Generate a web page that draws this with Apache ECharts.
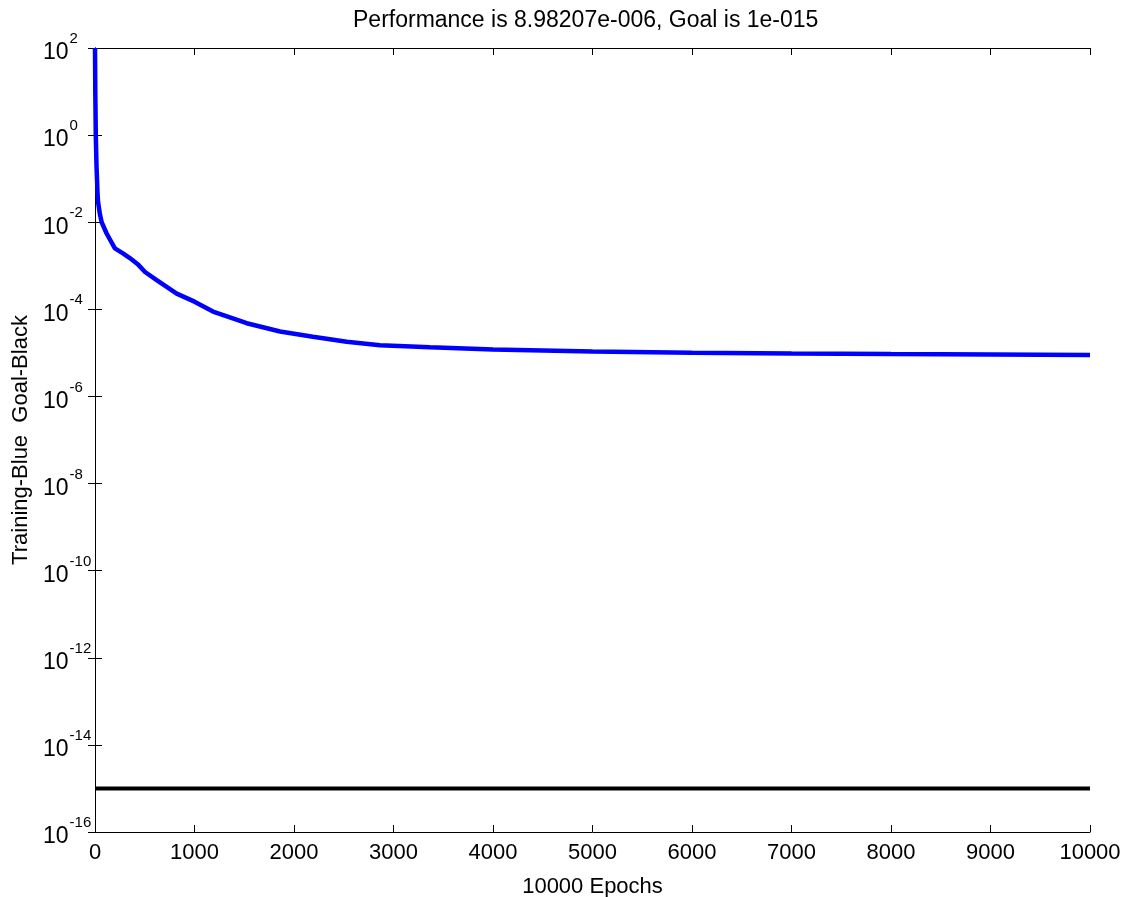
<!DOCTYPE html>
<html>
<head>
<meta charset="utf-8">
<script src="https://cdn.jsdelivr.net/npm/echarts@6/dist/echarts.min.js"></script>
<style>
html,body{margin:0;padding:0;background:#fff;}
#chart{width:1131px;height:897px;}
</style>
</head>
<body>
<div id="chart"></div>
<script>
// Data
const epochs = [0, 1, 3, 8, 15, 25, 30, 50, 67, 117, 200, 285, 350, 436, 503, 620, 821, 1000, 1186, 1525, 1860, 2190, 2530, 2864, 3367, 4000, 5000, 6000, 7000, 8000, 9000, 10000];
const training = [100, 50, 10, 1, 0.2, 0.05, 0.03, 0.015, 0.01, 0.0055, 0.0025, 0.0019, 0.0015, 0.00105, 7.2e-4, 4.7e-4, 2.3e-4, 1.5e-4, 8.9e-5, 4.8e-5, 3.1e-5, 2.35e-5, 1.8e-5, 1.5e-5, 1.35e-5, 1.2e-5, 1.08e-5, 1.01e-5, 9.7e-6, 9.4e-6, 9.15e-6, 8.98e-6];
const goalEpochs = [0, 10000];
const goalValue = 1e-15;
const xTicks = [0, 1000, 2000, 3000, 4000, 5000, 6000, 7000, 8000, 9000, 10000];
const yExponents = [-16, -14, -12, -10, -8, -6, -4, -2, 0, 2];
const titleText = 'Performance is 8.98207e-006, Goal is 1e-015';
const xName = '10000 Epochs';
const yName = 'Training-Blue  Goal-Black';

const font = 'Liberation Sans, Arial, sans-serif';
const chart = echarts.init(document.getElementById('chart'), null, {renderer: 'canvas'});

const axisLine = {show: true, lineStyle: {color: '#000', width: 1}};
const axisTick = {show: true, inside: true, length: 7, lineStyle: {color: '#000', width: 1}};
const yMin = Math.pow(10, yExponents[0]);
const yMax = Math.pow(10, yExponents[yExponents.length - 1]);

chart.setOption({
  backgroundColor: '#fff',
  animation: false,
  title: {
    text: titleText,
    left: 348,
    top: 4,
    textStyle: {fontFamily: font, fontSize: 23, fontWeight: 'normal', color: '#000'}
  },
  grid: {left: 95, right: 41, top: 48, bottom: 65, containLabel: false, outerBoundsMode: 'none', show: false},
  xAxis: [{
    type: 'value',
    min: xTicks[0], max: xTicks[xTicks.length - 1], interval: 1000,
    position: 'bottom',
    name: xName, nameLocation: 'middle', nameGap: 44,
    nameTextStyle: {fontFamily: font, fontSize: 22, color: '#000'},
    axisLine: axisLine, axisTick: axisTick,
    axisLabel: {fontFamily: font, fontSize: 22, color: '#000', margin: 10,
      formatter: function (v) { return String(v); }},
    splitLine: {show: false}
  }, {
    type: 'value',
    min: xTicks[0], max: xTicks[xTicks.length - 1], interval: 1000,
    position: 'top',
    axisLine: axisLine, axisTick: axisTick,
    axisLabel: {show: false}, splitLine: {show: false}
  }],
  yAxis: [{
    type: 'log', logBase: 10,
    min: yMin, max: yMax,
    interval: 2,
    position: 'left',
    name: yName, nameLocation: 'middle', nameGap: 57,
    nameTextStyle: {fontFamily: font, fontSize: 22, color: '#000'},
    axisLine: axisLine, axisTick: axisTick,
    axisLabel: {
      margin: 52,
      align: 'left',
      hideOverlap: false,
      showMinLabel: true, showMaxLabel: true,
      formatter: function (v) {
        const e = Math.round(Math.log10(v));
        return '{b|10}{s|' + e + '}';
      },
      rich: {
        b: {fontFamily: font, fontSize: 23, color: '#000', verticalAlign: 'bottom', padding: [10, 0, 0, 0]},
        s: {fontFamily: font, fontSize: 15, color: '#000', verticalAlign: 'top', padding: [0, 0, 10, 1]}
      }
    },
    splitLine: {show: false}
  }, {
    type: 'log', logBase: 10,
    min: yMin, max: yMax,
    interval: 2,
    position: 'right',
    axisLine: axisLine, axisTick: axisTick,
    axisLabel: {show: false}, splitLine: {show: false}
  }],
  series: [{
    type: 'line',
    data: epochs.map((e, i) => [e, training[i]]),
    showSymbol: false,
    smooth: false,
    lineStyle: {color: '#0000ff', width: 4.5},
    itemStyle: {color: '#0000ff'},
    z: 3
  }, {
    type: 'line',
    data: goalEpochs.map(e => [e, goalValue]),
    showSymbol: false,
    lineStyle: {color: '#000', width: 4},
    itemStyle: {color: '#000'},
    z: 2
  }]
});
</script>
</body>
</html>
